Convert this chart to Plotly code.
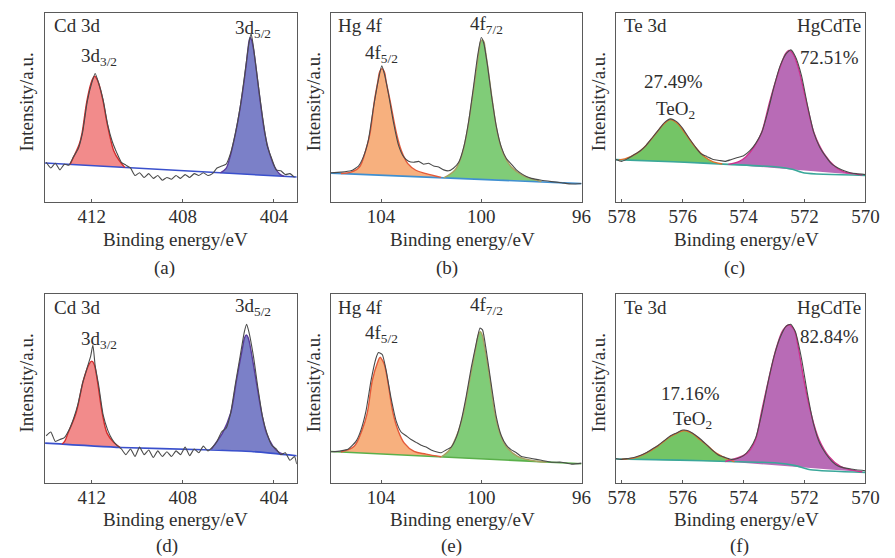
import plotly.graph_objects as go

# ---------------- data (binding energy eV, intensity a.u. 0-100 box scale) ----------------
# Panel (a) Cd 3d
A_BG_E = [414.05, 403.0]
A_BG_I = [20.6, 13.2]
A_P1_E = [412.95, 412.75, 412.55, 412.43, 412.22, 412.04, 411.95, 411.87, 411.79, 411.69, 411.51, 411.35, 411.23, 411.04, 410.8, 410.55]
A_P1_I = [19.9, 25.0, 30.5, 36.2, 53.0, 62.6, 65.4, 66.5, 65.4, 62.6, 53.8, 43.0, 36.2, 27.3, 22.0, 18.3]
A_P2_E = [406.35, 406.1, 405.97, 405.69, 405.43, 405.23, 405.14, 405.09, 405.04, 404.98, 404.9, 404.79, 404.61, 404.4, 404.19, 403.97, 403.76, 403.55]
A_P2_I = [15.4, 17.8, 22.0, 36.2, 53.8, 71.4, 81.0, 85.4, 87.0, 85.6, 81.0, 71.4, 53.8, 36.2, 25.6, 18.5, 15.0, 13.6]
A_RAW_E = [414.0, 413.8, 413.6, 413.4, 413.2, 413.0, 412.8, 412.6, 412.4, 412.2,
           412.0, 411.85, 411.7, 411.5, 411.3, 411.1, 410.9, 410.7, 410.5, 410.3,
           410.1, 409.9, 409.7, 409.5, 409.3, 409.1, 408.9, 408.7, 408.5, 408.3,
           408.1, 407.9, 407.7, 407.5, 407.3, 407.1, 406.9, 406.7, 406.5, 406.3,
           406.1, 405.9, 405.7, 405.5, 405.3, 405.1, 405.0, 404.9, 404.7, 404.5,
           404.3, 404.1, 403.9, 403.7, 403.5, 403.3, 403.1]
A_RAW_I = [21, 18, 20.5, 17, 20, 19.5, 24, 28, 37, 53,
           63, 68, 63, 54, 41, 32, 26, 21, 19.5, 18,
           14, 15.5, 13, 15, 12.5, 14, 11.5, 13, 12, 14,
           12.5, 14.5, 13, 15, 14, 15.5, 14, 15, 18, 19,
           20, 26, 36, 49, 66, 84, 89, 82, 63, 45,
           30, 23, 17, 16.5, 14.5, 15, 13]

# Panel (d) Cd 3d
D_BG_E = [414.05, 410.7, 407.1, 405.0, 403.0]
D_BG_I = [21.1, 18.8, 17.6, 16.7, 14.4]
D_P1_E = [413.3, 413.19, 413.04, 412.69, 412.36, 412.11, 412.0, 411.9, 411.76, 411.54, 411.33, 411.04, 410.76]
D_P1_I = [20.6, 22.0, 26.4, 37.0, 54.6, 63.0, 64.5, 63.0, 54.6, 37.0, 26.4, 21.5, 18.9]
D_P2_E = [406.75, 406.61, 406.26, 405.9, 405.64, 405.37, 405.29, 405.21, 405.13, 405.04, 404.79, 404.54, 404.33, 404.04, 403.83, 403.6]
D_P2_I = [17.8, 20.2, 26.4, 37.0, 54.6, 72.2, 76.8, 78.3, 76.8, 72.2, 54.6, 37.0, 26.4, 19.4, 16.7, 15.3]
D_RAW_E = [414.0, 413.8, 413.6, 413.4, 413.2, 413.0, 412.8, 412.6, 412.4, 412.2,
           412.05, 411.95, 411.85, 411.7, 411.5, 411.3, 411.1, 410.9, 410.7, 410.5,
           410.3, 410.1, 409.9, 409.7, 409.5, 409.3, 409.1, 408.9, 408.7, 408.5,
           408.3, 408.1, 407.9, 407.7, 407.5, 407.3, 407.1, 406.9, 406.7, 406.5,
           406.3, 406.1, 405.9, 405.7, 405.5, 405.3, 405.2, 405.1, 404.9, 404.7,
           404.5, 404.3, 404.1, 403.9, 403.7, 403.5, 403.3, 403.1, 403.0]
D_RAW_I = [25, 27, 22, 23, 24, 28, 34, 42, 53, 61,
           67, 73, 62, 52, 36, 28, 23, 20, 18, 15,
           18, 14, 19, 15, 17.5, 13.5, 17, 14, 16.5, 14,
           17, 15, 19, 14.5, 18, 16, 19.5, 17, 19, 22,
           27, 29, 37, 52, 66, 80, 84, 80, 67, 50,
           35, 26, 20, 18, 15, 16, 12, 14, 10]

# Panel (b) Hg 4f
B_BG_E = [106.0, 96.0]
B_BG_I = [15.3, 9.7]
B_P1_E = [105.6, 105.2, 104.86, 104.61, 104.44, 104.26, 104.13, 104.05, 103.96, 103.87, 103.79, 103.64, 103.38, 103.19, 102.93, 102.61, 102.2, 101.6]
B_P1_I = [15.1, 15.8, 18.5, 27.3, 36.2, 53.8, 63.4, 69.0, 70.5, 69.0, 63.4, 53.8, 36.2, 27.3, 20.3, 16.8, 15.0, 13.0]
B_P2_E = [101.5, 101.06, 100.8, 100.58, 100.37, 100.18, 100.08, 100.03, 99.96, 99.89, 99.85, 99.74, 99.56, 99.35, 99.12, 98.8, 98.35, 97.6]
B_P2_I = [12.8, 16.8, 23.8, 36.2, 53.8, 71.4, 81.0, 84.6, 85.9, 84.6, 81.5, 71.4, 53.8, 36.2, 25.6, 18.5, 14.1, 10.8]
B_RAW_E = [106.0, 105.6, 105.2, 104.9, 104.7, 104.5, 104.3, 104.1, 103.97, 103.85,
           103.7, 103.5, 103.3, 103.1, 102.9, 102.7, 102.5, 102.3, 102.1, 101.9,
           101.7, 101.5, 101.3, 101.1, 100.9, 100.7, 100.5, 100.3, 100.15, 100.0,
           99.9, 99.75, 99.6, 99.4, 99.2, 99.0, 98.8, 98.6, 98.4, 98.2,
           98.0, 97.6, 97.2, 96.8, 96.4, 96.0]
B_RAW_I = [15.5, 15.8, 16.5, 19, 24, 33, 50, 65, 72, 67,
           57, 42, 30, 24, 21.5, 21, 21.5, 20, 20.5, 19,
           18.5, 17, 16.5, 18, 21, 29, 43, 62, 77, 87,
           84, 72, 57, 40, 29, 23, 20, 17, 15, 13.5,
           12.5, 11.5, 10.8, 10.2, 9.5, 9.8]

# Panel (e) Hg 4f
E_BG_E = [106.0, 96.0]
E_BG_I = [16.7, 10.2]
E_P1_E = [105.6, 105.07, 104.75, 104.55, 104.34, 104.13, 104.04, 103.96, 103.87, 103.74, 103.52, 103.33, 103.07, 102.68, 102.2, 101.6]
E_P1_I = [16.4, 19.4, 28.2, 37.0, 54.6, 64.0, 66.5, 65.3, 62.8, 54.6, 37.0, 28.2, 21.1, 16.7, 15.3, 13.9]
E_P2_E = [101.6, 101.26, 100.94, 100.71, 100.46, 100.21, 100.12, 100.04, 99.96, 99.87, 99.65, 99.46, 99.26, 99.01, 98.55, 97.8, 97.4]
E_P2_I = [13.8, 17.6, 26.4, 37.0, 54.6, 72.2, 78.2, 80.1, 78.2, 72.2, 54.6, 37.0, 26.4, 19.4, 14.1, 11.5, 11.1]
E_RAW_E = [106.0, 105.6, 105.3, 105.0, 104.8, 104.6, 104.4, 104.2, 104.1, 103.95,
           103.8, 103.6, 103.4, 103.2, 103.0, 102.8, 102.6, 102.4, 102.2, 102.0,
           101.8, 101.6, 101.4, 101.2, 101.0, 100.8, 100.6, 100.4, 100.2, 100.05,
           99.95, 99.8, 99.6, 99.4, 99.2, 99.0, 98.8, 98.6, 98.4, 98.0,
           97.6, 97.2, 96.8, 96.4, 96.0]
E_RAW_I = [16.5, 17, 18, 22, 28, 38, 54, 66, 69, 68,
           60, 45, 33, 27, 25, 23, 21.5, 20, 19, 17.5,
           16.5, 16, 17.5, 19, 24, 33, 46, 61, 74, 82,
           81, 70, 52, 35, 25, 20, 17.5, 16, 14, 13,
           12, 11, 11, 10, 10.5]

# Panel (c) Te 3d
C_BG_E = [578.2, 576.1, 574.5, 572.9, 572.4, 572.0, 570.0]
C_BG_I = [22.4, 21.2, 19.9, 18.5, 17.3, 15.3, 14.1]
C_P1_E = [578.1, 577.9, 577.52, 577.25, 576.88, 576.61, 576.4, 576.16, 575.91, 575.59, 575.27, 575.0, 574.7]
C_P1_I = [22.3, 22.8, 25.6, 29.1, 36.2, 41.4, 43.6, 41.4, 36.2, 29.1, 23.8, 21.2, 20.1]
C_P2_E = [574.5, 574.14, 573.93, 573.66, 573.42, 573.13, 572.8, 572.62, 572.51, 572.38, 572.21, 571.95, 571.68, 571.36, 570.98, 570.71, 570.39, 570.1]
C_P2_I = [19.9, 21.5, 23.8, 29.1, 36.2, 53.8, 71.4, 78.5, 80.2, 78.5, 71.4, 53.8, 36.2, 25.6, 18.5, 15.9, 15.0, 14.2]
C_RAW_E = [578.2, 578.0, 577.8, 577.6, 577.4, 577.2, 577.0, 576.8, 576.6, 576.4,
           576.2, 576.0, 575.8, 575.6, 575.4, 575.2, 575.0, 574.8, 574.6, 574.4,
           574.2, 574.0, 573.8, 573.6, 573.4, 573.2, 573.0, 572.8, 572.6, 572.45,
           572.3, 572.1, 571.9, 571.7, 571.5, 571.3, 571.1, 570.9, 570.7, 570.5,
           570.3, 570.0]
C_RAW_I = [22.5, 21.5, 23, 25, 27, 30, 34, 38, 42, 44,
           42.5, 39, 34, 29.5, 25.5, 24, 22.5, 22, 21.5, 22.5,
           23.5, 24.5, 27, 31, 37, 48, 61, 72, 78.5, 80.5,
           77, 67, 51, 37, 29, 24, 20, 18, 16.5, 15.5,
           15, 14.5]

# Panel (f) Te 3d
F_BG_E = [578.2, 576.1, 574.5, 572.9, 572.3, 571.8, 570.0]
F_BG_I = [12.7, 12.1, 11.4, 10.6, 9.2, 7.0, 5.6]
F_P1_E = [578.0, 577.58, 577.2, 576.83, 576.4, 576.18, 575.95, 575.7, 575.43, 575.16, 574.9, 574.57, 574.3]
F_P1_I = [12.6, 13.3, 15.8, 19.4, 24.6, 26.4, 27.8, 26.4, 22.9, 19.4, 15.8, 13.0, 11.3]
F_P2_E = [574.6, 573.88, 573.61, 573.42, 573.18, 572.91, 572.7, 572.51, 572.34, 572.21, 572.02, 571.79, 571.52, 571.2, 570.82, 570.39, 570.1]
F_P2_I = [11.4, 15.8, 22.9, 37.0, 54.6, 72.2, 81.0, 83.6, 81.0, 72.2, 54.6, 37.0, 22.9, 14.1, 8.8, 6.7, 5.8]
F_RAW_E = C_RAW_E
F_RAW_I = [13, 12.5, 13, 13.5, 14.5, 16, 18, 20, 22.5, 25,
           26.5, 28, 27.5, 25.5, 23, 20, 17, 14.5, 13.5, 12.5,
           13, 14.5, 18, 24, 37, 53, 67, 77, 83, 84,
           80, 66, 47, 31, 21, 15.5, 11.5, 9, 8, 7.5,
           7, 6.5]

# axis ranges / ticks
CD_RANGE = [414.05, 403.0]
CD_TICKS = [412, 408, 404]
HG_RANGE = [106.0, 96.0]
HG_TICKS = [104, 100, 96]
TE_RANGE = [578.2, 570.0]
TE_TICKS = [578, 576, 574, 572, 570]

W, H = 895, 558
FONT = "Liberation Serif, Times New Roman, Times, DejaVu Serif, serif"
TXT = "#2e2e2e"

fig = go.Figure()

# panel boxes in pixels: (x0, x1) and (ytop, ybottom)
COLS = [(38, 296), (331, 588), (623, 879)]
ROWS = [(13, 202), (294, 483)]

def dom_x(c):
    return [COLS[c][0] / W, COLS[c][1] / W]

def dom_y(r):
    return [1 - ROWS[r][1] / H, 1 - ROWS[r][0] / H]

panels = [
    (0, 0, (A_BG_E, A_BG_I), [(A_P1_E, A_P1_I, "#f28b8b", "#d42c2c"), (A_P2_E, A_P2_I, "#7b80c8", "#5a3c9c")], (A_RAW_E, A_RAW_I), "#3a50cc", CD_RANGE, CD_TICKS),
    (0, 1, (B_BG_E, B_BG_I), [(B_P1_E, B_P1_I, "#f7b07e", "#e45a3a"), (B_P2_E, B_P2_I, "#80cc78", "#a8a060")], (B_RAW_E, B_RAW_I), "#3f8fd0", HG_RANGE, HG_TICKS),
    (0, 2, (C_BG_E, C_BG_I), [(C_P1_E, C_P1_I, "#74c566", "#e0702a"), (C_P2_E, C_P2_I, "#b86bb6", "#d0308e")], (C_RAW_E, C_RAW_I), "#3aa79a", TE_RANGE, TE_TICKS),
    (1, 0, (D_BG_E, D_BG_I), [(D_P1_E, D_P1_I, "#f28b8b", "#d42c2c"), (D_P2_E, D_P2_I, "#7b80c8", "#5a3c9c")], (D_RAW_E, D_RAW_I), "#3a50cc", CD_RANGE, CD_TICKS),
    (1, 1, (E_BG_E, E_BG_I), [(E_P1_E, E_P1_I, "#f7b07e", "#e45a3a"), (E_P2_E, E_P2_I, "#80cc78", "#a8a060")], (E_RAW_E, E_RAW_I), "#5ab04a", HG_RANGE, HG_TICKS),
    (1, 2, (F_BG_E, F_BG_I), [(F_P1_E, F_P1_I, "#74c566", "#e0702a"), (F_P2_E, F_P2_I, "#b86bb6", "#d0308e")], (F_RAW_E, F_RAW_I), "#3aa79a", TE_RANGE, TE_TICKS),
]

for idx, (r, c, bg, peaks, raw, bgcol, xr, ticks) in enumerate(panels):
    n = idx + 1
    xa = "x" if n == 1 else f"x{n}"
    ya = "y" if n == 1 else f"y{n}"
    for (pe, pi, fc, lc) in peaks:
        fig.add_trace(go.Scatter(x=[pe[0], pe[-1]], y=[pi[0], pi[-1]], mode="lines",
                                 line=dict(width=0, color=fc), xaxis=xa, yaxis=ya,
                                 showlegend=False, hoverinfo="skip"))
        fig.add_trace(go.Scatter(x=pe, y=pi, mode="lines", fill="tonexty", fillcolor=fc,
                                 line=dict(width=0, shape="spline", smoothing=1.0, color=fc),
                                 xaxis=xa, yaxis=ya, showlegend=False, hoverinfo="skip"))
    fig.add_trace(go.Scatter(x=bg[0], y=bg[1], mode="lines",
                             line=dict(width=1.6, color=bgcol, shape="spline", smoothing=0.6),
                             xaxis=xa, yaxis=ya, showlegend=False, hoverinfo="skip"))
    for (pe, pi, fc, lc) in peaks:
        fig.add_trace(go.Scatter(x=pe, y=pi, mode="lines",
                                 line=dict(width=1.4, shape="spline", smoothing=1.0, color=lc),
                                 xaxis=xa, yaxis=ya, showlegend=False, hoverinfo="skip"))
    fig.add_trace(go.Scatter(x=raw[0], y=raw[1], mode="lines",
                             line=dict(width=1.1, color="#4a4a4a", shape="spline", smoothing=0.5),
                             xaxis=xa, yaxis=ya, showlegend=False, hoverinfo="skip"))

    axis_common = dict(showline=True, mirror=True, linecolor="#5a5a5a", linewidth=1,
                       showgrid=False, zeroline=False)
    fig.layout[f"xaxis{'' if n == 1 else n}"] = dict(
        domain=dom_x(c), anchor=ya, range=xr, tickvals=ticks, ticktext=[str(t) for t in ticks],
        ticks="inside", ticklen=3, tickcolor="#5a5a5a", ticklabelstandoff=-3,
        tickfont=dict(family=FONT, size=19, color=TXT), **axis_common)
    fig.layout[f"yaxis{'' if n == 1 else n}"] = dict(
        domain=dom_y(r), anchor=xa, range=[0, 100], showticklabels=False, ticks="",
        **axis_common)

ann = []

def add_text(txt, px, py, size=19, xanchor="center", yanchor="middle", angle=0):
    ann.append(dict(text=txt, x=px / W, y=1 - py / H, xref="paper", yref="paper",
                    xanchor=xanchor, yanchor=yanchor, showarrow=False, textangle=angle,
                    font=dict(family=FONT, size=size, color=TXT)))

for cx in [172, 466, 757]:
    add_text("Binding energy/eV", cx, 239)
    add_text("Binding energy/eV", cx, 519)
LETTERS = ["(a)", "(b)", "(c)", "(d)", "(e)", "(f)"]
for i, (lx, ly) in enumerate([(160, 268), (450, 268), (745, 268), (163, 546), (455, 546), (750, 546)]):
    add_text(LETTERS[i], lx, ly)
for yx in [18, 313, 605]:
    add_text("Intensity/a.u.", yx, 102, angle=-90)
    add_text("Intensity/a.u.", yx, 383, angle=-90)

# in-panel labels, row 1
add_text("Cd 3d", 45, 26, xanchor="left")
add_text("3d<sub>3/2</sub>", 93, 57)
add_text("3d<sub>5/2</sub>", 251, 29)
add_text("Hg 4f", 336, 26, xanchor="left")
add_text("4f<sub>5/2</sub>", 383, 54)
add_text("4f<sub>7/2</sub>", 491, 25)
add_text("Te 3d", 629, 26, xanchor="left")
add_text("HgCdTe", 877, 26, xanchor="right")
add_text("72.51%", 874, 57, xanchor="right")
add_text("27.49%", 682, 82)
add_text("TeO<sub>2</sub>", 684, 110)
# row 2
add_text("Cd 3d", 45, 307, xanchor="left")
add_text("3d<sub>3/2</sub>", 93, 340)
add_text("3d<sub>5/2</sub>", 251, 307)
add_text("Hg 4f", 336, 307, xanchor="left")
add_text("4f<sub>5/2</sub>", 383, 334)
add_text("4f<sub>7/2</sub>", 491, 306)
add_text("Te 3d", 629, 307, xanchor="left")
add_text("HgCdTe", 877, 307, xanchor="right")
add_text("82.84%", 874, 336, xanchor="right")
add_text("17.16%", 700, 393)
add_text("TeO<sub>2</sub>", 702, 420)

fig.update_layout(width=W, height=H, margin=dict(l=0, r=0, t=0, b=0),
                  paper_bgcolor="white", plot_bgcolor="white", annotations=ann,
                  showlegend=False)

fig.write_html("out.html", config={"displayModeBar": False},
               post_script="document.body.style.margin='0px';")
